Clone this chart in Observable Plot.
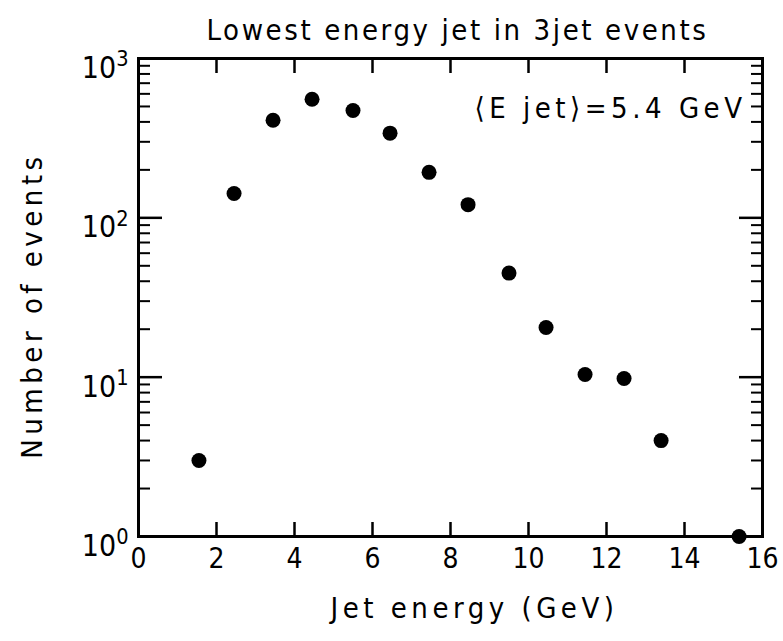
<!DOCTYPE html>
<html><head><meta charset="utf-8">
<script src="https://cdn.jsdelivr.net/npm/d3@7"></script>
<script src="https://cdn.jsdelivr.net/npm/@observablehq/plot@0.6"></script>
<style>body{margin:0;background:#fff}</style>
</head><body><div id="chart"></div>
<script>
const jetEnergy = [1.55, 2.45, 3.45, 4.45, 5.5, 6.45, 7.45, 8.45, 9.5, 10.45, 11.45, 12.45, 13.4, 15.4];
const nEvents  = [3.0, 142, 410, 555, 472, 340, 193, 121, 45, 20.5, 10.4, 9.8, 4.0, 1.0];
const xTicks = [0, 2, 4, 6, 8, 10, 12, 14, 16];
const yDecades = [1, 10, 100, 1000];
const yMinorMult = [2, 3, 4, 5, 6, 7, 8, 9];
const titleText = "Lowest energy jet in 3jet events";
const xLabel = "Jet energy (GeV)";
const yLabel = "Number of events";
const note = "\u27E8E jet\u27E9=5.4 GeV";

const data = jetEnergy.map((x, i) => ({x, y: nEvents[i]}));
const yMinor = yDecades.slice(0, -1).flatMap(d => yMinorMult.map(m => d * m));
const FONT = "'DejaVu Sans Condensed', 'DejaVu Sans', sans-serif";
const none = () => "";

const plot = Plot.plot({
  width: 783, height: 641,
  marginLeft: 138, marginRight: 21, marginTop: 58, marginBottom: 105,
  style: {fontFamily: FONT, fontSize: "26px", color: "#000", background: "#fff", overflow: "visible"},
  x: {domain: [0, 16]},
  y: {type: "log", domain: [1, 1000]},
  marks: [
    Plot.frame({stroke: "#000", strokeWidth: 3}),
    // inward ticks on all four sides
    Plot.axisX({anchor: "bottom", ticks: xTicks, tickSize: -14, tickFormat: none, strokeWidth: 2.5, label: null}),
    Plot.axisX({anchor: "top", ticks: xTicks, tickSize: -14, tickFormat: none, strokeWidth: 2.5, label: null}),
    Plot.axisY({anchor: "left", ticks: yDecades, tickSize: -24, tickFormat: none, strokeWidth: 2.5, label: null}),
    Plot.axisY({anchor: "left", ticks: yMinor, tickSize: -12, tickFormat: none, strokeWidth: 2, label: null}),
    Plot.axisY({anchor: "right", ticks: yDecades, tickSize: -24, tickFormat: none, strokeWidth: 2.5, label: null}),
    Plot.axisY({anchor: "right", ticks: yMinor, tickSize: -12, tickFormat: none, strokeWidth: 2, label: null}),
    // tick labels
    Plot.axisX({anchor: "bottom", ticks: xTicks, tickSize: 0, tickPadding: 12, label: null, tickFormat: d => String(d), fontSize: 28}),
    Plot.axisY({anchor: "left", ticks: yDecades, tickSize: 0, tickPadding: 10, dy: 10, label: null, tickFormat: d => "10^" + Math.round(Math.log10(d)), fontSize: 30}),
    Plot.dot(data, {x: "x", y: "y", r: 7.5, fill: "#000", stroke: null}),
    Plot.text([note], {frameAnchor: "top-right", lineAnchor: "middle", textAnchor: "end", dx: -16, dy: 50, fontSize: 29}),
    Plot.text([titleText], {frameAnchor: "top", lineAnchor: "middle", textAnchor: "middle", dx: 7, dy: -28, fontSize: 29}),
    Plot.text([xLabel], {frameAnchor: "bottom", lineAnchor: "middle", textAnchor: "middle", dx: 24, dy: 72, fontSize: 29}),
    Plot.text([yLabel], {frameAnchor: "left", lineAnchor: "middle", textAnchor: "middle", dx: -106, dy: 8, rotate: -90, fontSize: 29})
  ]
});
document.getElementById("chart").append(plot);

// letter spacing for the label texts, and superscripts for the log-axis labels
d3.select(plot).selectAll("text").each(function() {
  const t = d3.select(this);
  const s = t.text();
  if (s === titleText) t.attr("letter-spacing", "2.6px");
  if (s === xLabel || s === yLabel) t.attr("letter-spacing", "4.5px");
  if (s === note) t.attr("letter-spacing", "4.5px");
  if (!s.includes("^")) return;
  const [base, exp] = s.split("^");
  t.text(base);
  t.append("tspan").attr("dy", "-0.55em").attr("font-size", "0.72em").text(exp);
});
</script>
</body></html>
